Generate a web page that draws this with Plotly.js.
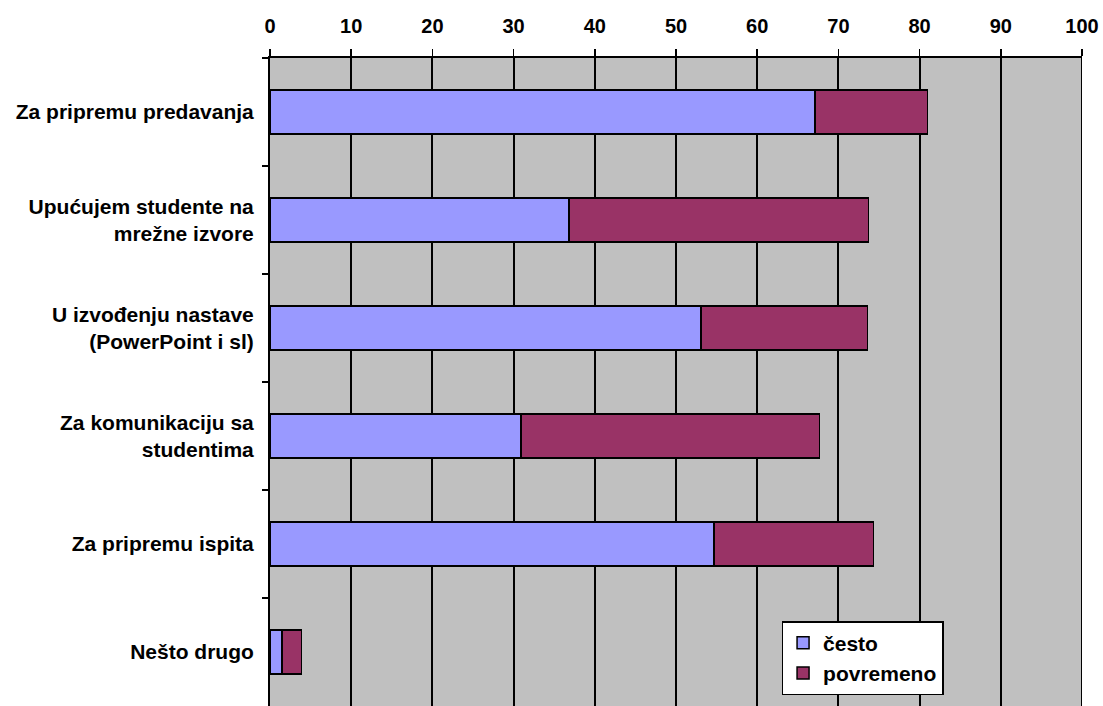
<!DOCTYPE html>
<html><head><meta charset="utf-8">
<script src="https://cdn.plot.ly/plotly-3.0.1.min.js"></script>
<style>body{margin:0;background:#fff}#c{width:1103px;height:706px}</style>
</head><body><div id="c"></div>
<script>
var categories = ["Za pripremu predavanja","Upućujem studente na<br>mrežne izvore","U izvođenju nastave<br>(PowerPoint i sl)","Za komunikaciju sa<br>studentima","Za pripremu ispita","Nešto drugo"];
var cesto = [67.1, 36.8, 53.1, 30.9, 54.7, 1.5];
var povremeno = [13.9, 36.9, 20.5, 36.8, 19.6, 2.4];
var seriesNames = ["često","povremeno"];
var xTicks = [0,10,20,30,40,50,60,70,80,90,100];

var F = {family:"Liberation Sans, Arial, sans-serif", size:20, color:"#000", weight:"bold"};
var FY = {family:"Liberation Sans, Arial, sans-serif", size:21, color:"#000", weight:"bold"};
var traces = [
 {type:"bar", orientation:"h", name:seriesNames[0], y:categories, x:cesto,
  marker:{color:"#9999FF", line:{color:"#000", width:1.5}}},
 {type:"bar", orientation:"h", name:seriesNames[1], y:categories, x:povremeno,
  marker:{color:"#993366", line:{color:"#000", width:1.5}}}
];
var layout = {
 width:1103, height:706, barmode:"stack", bargap:0.59,
 margin:{l:270, r:21, t:58, b:0},
 paper_bgcolor:"#fff", plot_bgcolor:"#C0C0C0",
 font:F, showlegend:true,
 xaxis:{side:"top", range:[0,100], tickvals:xTicks, ticktext:xTicks.map(String),
  showgrid:true, gridcolor:"#000", gridwidth:2, showline:true, linecolor:"#000", linewidth:2,
  ticks:"outside", ticklen:7, tickwidth:1.5, tickcolor:"#000", ticklabelstandoff:8,
  zeroline:false, mirror:false, tickfont:F, fixedrange:true},
 yaxis:{type:"category", autorange:"reversed", showgrid:false, showline:true, linecolor:"#000", linewidth:2,
  ticks:"outside", tickson:"boundaries", ticklen:6, tickwidth:1.5, tickcolor:"#000",
  ticklabelstandoff:10, tickfont:FY, fixedrange:true},
 legend:{x:0.63, y:0.131, xanchor:"left", yanchor:"top", bgcolor:"#fff", bordercolor:"#000", borderwidth:1.5,
  font:FY, traceorder:"normal", tracegroupgap:0, itemwidth:30},
 shapes:[{type:"line", xref:"x", yref:"paper", x0:100, x1:100, y0:0, y1:1, line:{color:"#000", width:2}}]
};
Plotly.newPlot("c", traces, layout, {displayModeBar:false, staticPlot:true});
</script></body></html>
